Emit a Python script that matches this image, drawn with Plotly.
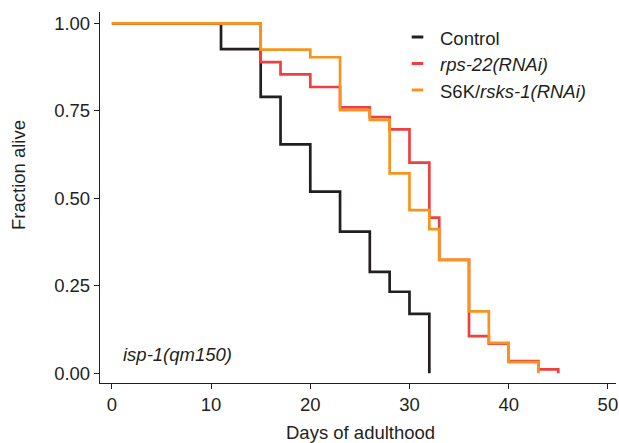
import plotly.graph_objects as go

# Data (days of adulthood, fraction alive)
control_days = [0, 11, 15, 17, 20, 23, 26, 28, 30, 32]
control_surv = [1.0, 0.926, 0.79, 0.654, 0.519, 0.405, 0.29, 0.233, 0.17, 0.0]

rps22_days = [0, 15, 17, 20, 23, 26, 28, 30, 32, 33, 36, 38, 40, 43, 45]
rps22_surv = [1.0, 0.889, 0.854, 0.818, 0.760, 0.732, 0.697, 0.602, 0.445, 0.324, 0.106, 0.085, 0.035, 0.011, 0.0]

rsks1_days = [0, 15, 20, 23, 26, 28, 30, 32, 33, 36, 38, 40, 43]
rsks1_surv = [1.0, 0.925, 0.903, 0.752, 0.724, 0.571, 0.466, 0.412, 0.324, 0.177, 0.087, 0.032, 0.0]

series_names = ["Control", "<i>rps-22(RNAi)</i>", "S6K/<i>rsks-1(RNAi)</i>"]
colors = ["#231F20", "#EF4040", "#F7941D"]
x_ticks = [0, 10, 20, 30, 40, 50]
y_ticks = [0.0, 0.25, 0.5, 0.75, 1.0]
y_tick_text = ["0.00", "0.25", "0.50", "0.75", "1.00"]

FONT = "Liberation Sans, Arial, Helvetica, sans-serif"
TXT = "#231F20"
FS = 18.5

W, H = 619, 443
ML, MR, MT, MB = 100, 3, 12, 60
PW, PH = W - ML - MR, H - MT - MB


def px_x(px):
    return (px - ML) / PW


def px_y(py):
    return (H - MB - py) / PH


fig = go.Figure()
for days, surv, name, col in zip(
    [control_days, rps22_days, rsks1_days],
    [control_surv, rps22_surv, rsks1_surv],
    series_names, colors,
):
    fig.add_trace(go.Scatter(
        x=days, y=surv, mode="lines", line_shape="hv", name=name,
        line=dict(color=col, width=2.7), showlegend=False,
    ))

annotations = []
shapes = []
# custom legend
rows_y = [37, 63.5, 90]
for name, col, ry in zip(series_names, colors, rows_y):
    shapes.append(dict(type="line", xref="paper", yref="paper",
                       x0=px_x(411.7), x1=px_x(423.3), y0=px_y(ry), y1=px_y(ry),
                       line=dict(color=col, width=3)))
    annotations.append(dict(text=name, xref="paper", yref="paper",
                            x=px_x(438), y=px_y(ry + 1), xanchor="left", yanchor="middle",
                            showarrow=False, font=dict(family=FONT, size=FS, color=TXT)))

annotations.append(dict(text="<i>isp-1(qm150)</i>", xref="paper", yref="paper",
                        x=px_x(120.5), y=px_y(354), xanchor="left", yanchor="middle",
                        showarrow=False, font=dict(family=FONT, size=FS, color=TXT)))
annotations.append(dict(text="Fraction alive", xref="paper", yref="paper",
                        x=px_x(18), y=px_y(175), xanchor="center", yanchor="middle",
                        textangle=-90, showarrow=False,
                        font=dict(family=FONT, size=FS, color=TXT)))
annotations.append(dict(text="Days of adulthood", xref="paper", yref="paper",
                        x=px_x(360), y=px_y(433), xanchor="center", yanchor="middle",
                        showarrow=False, font=dict(family=FONT, size=FS, color=TXT)))

fig.update_layout(
    width=W, height=H,
    margin=dict(l=ML, r=MR, t=MT, b=MB, pad=0, autoexpand=False),
    plot_bgcolor="white", paper_bgcolor="white",
    font=dict(family=FONT, size=FS, color=TXT),
    annotations=annotations, shapes=shapes,
    xaxis=dict(range=[-1.2, 50.82], tickvals=x_ticks, ticks="outside", ticklen=5,
               tickwidth=1.2, tickcolor=TXT, showline=True, linecolor=TXT, linewidth=1.3,
               showgrid=False, zeroline=False, automargin=False,
               tickfont=dict(size=FS, color=TXT)),
    yaxis=dict(range=[-0.0277, 1.0323], tickvals=y_ticks, ticktext=y_tick_text,
               ticks="outside", ticklen=5, tickwidth=1.2, tickcolor=TXT,
               showline=True, linecolor=TXT, linewidth=1.3,
               showgrid=False, zeroline=False, automargin=False,
               tickfont=dict(size=FS, color=TXT)),
)

fig.write_html(
    "out.html",
    config={"displayModeBar": False},
    post_script="document.body.style.margin='0';document.body.style.overflow='hidden';",
)
